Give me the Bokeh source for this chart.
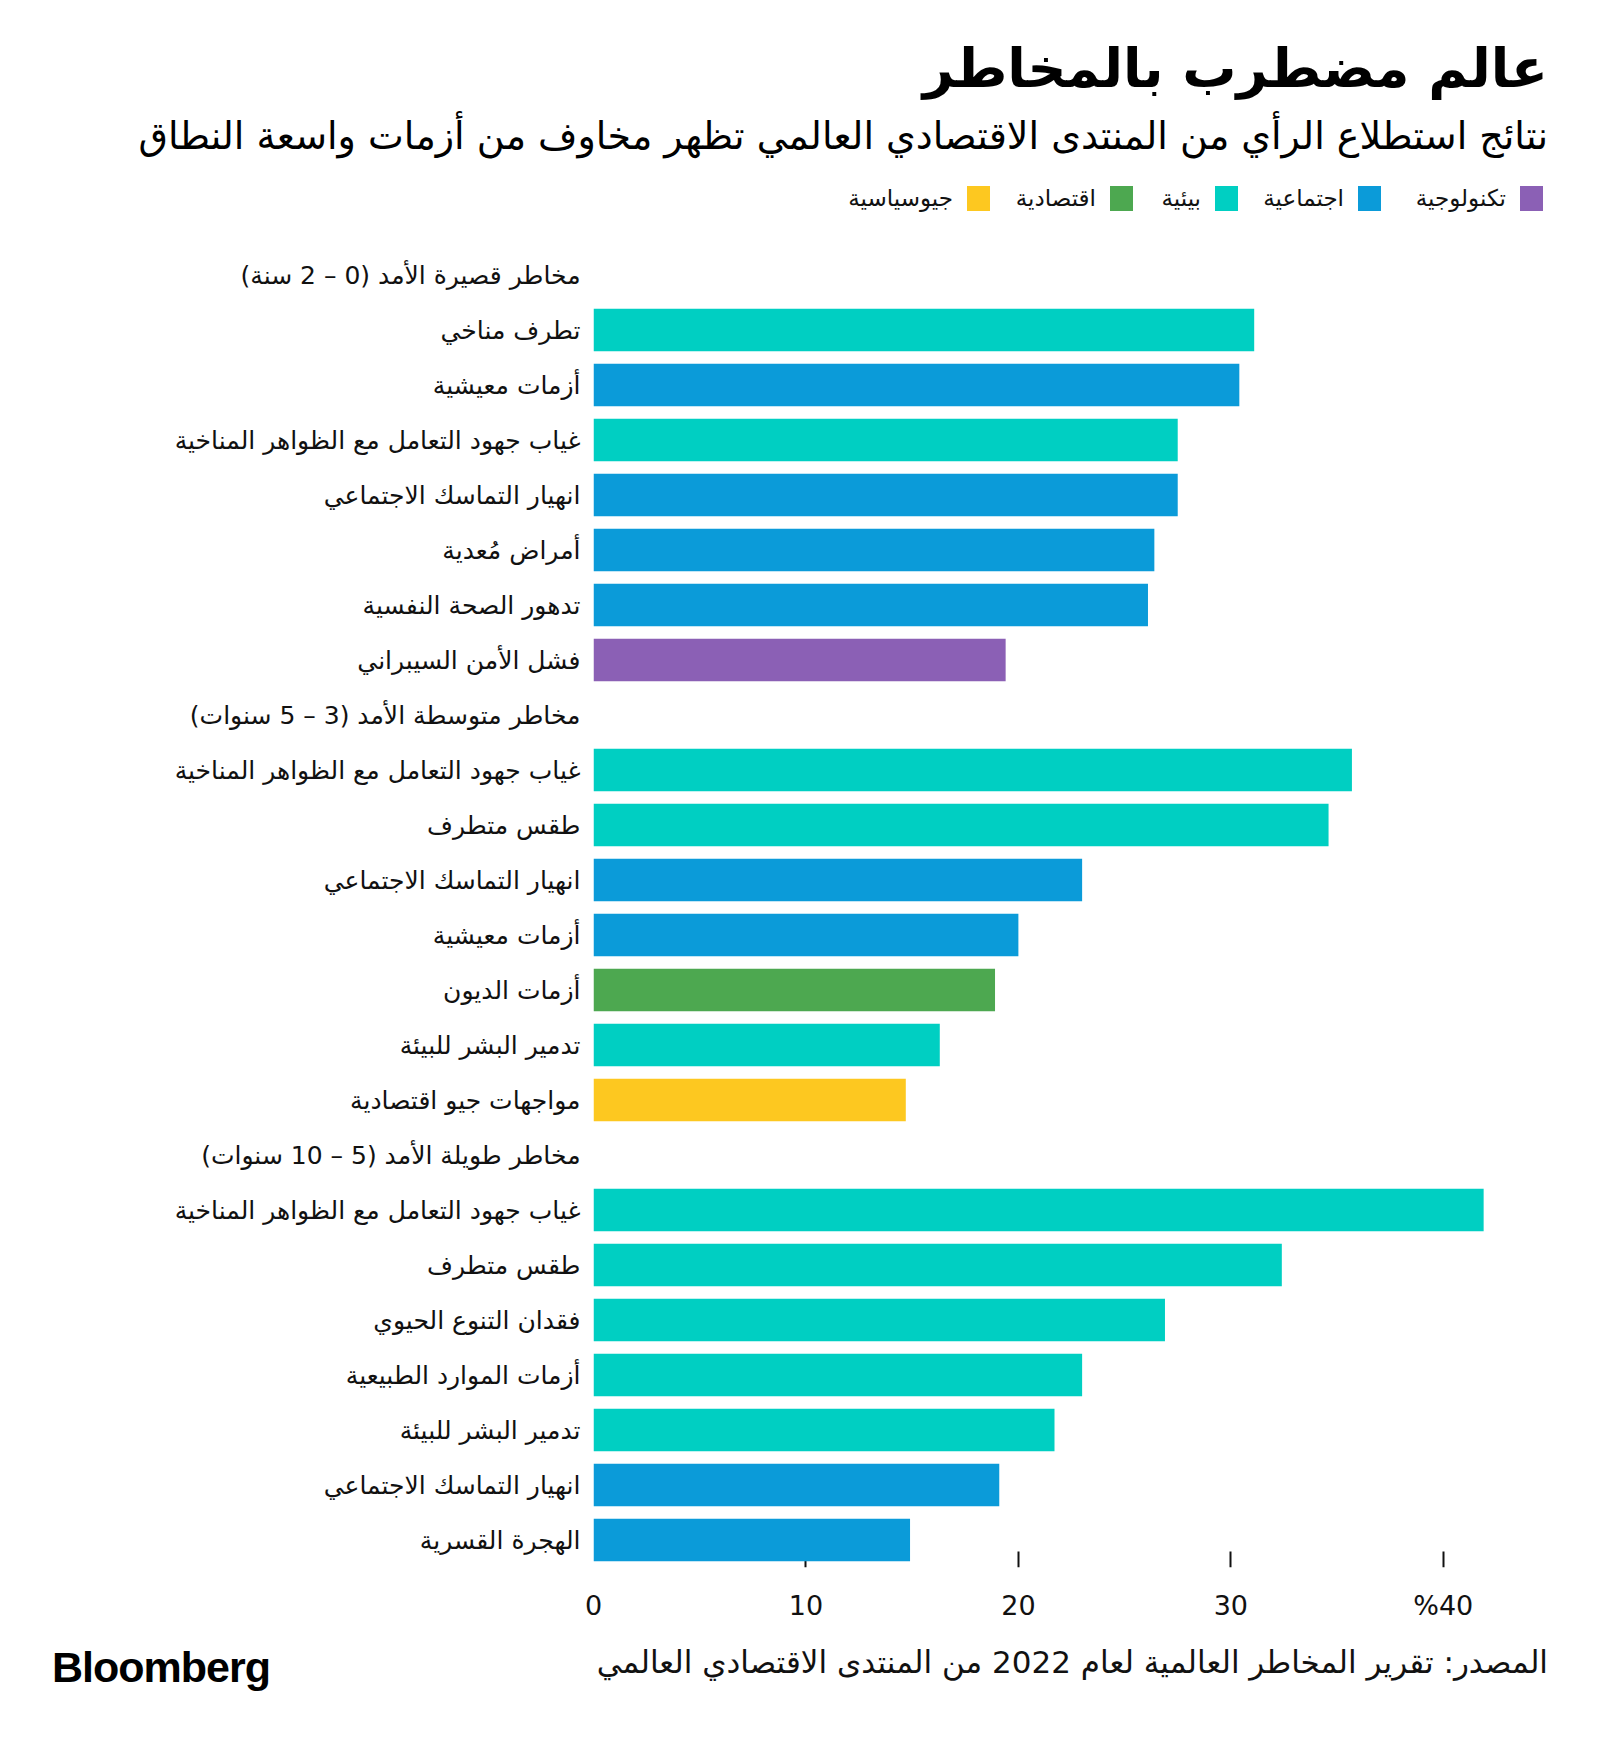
from bokeh.plotting import figure
from bokeh.models import Range1d, FixedTicker, ColumnDataSource, LinearAxis, Div
from bokeh.layouts import column
from bokeh.embed import file_html
from bokeh.resources import INLINE

RLE, PDF = "\u202B", "\u202C"
def rtl(s):
    return RLE + s + PDF

TITLE = "عالم مضطرب بالمخاطر"
SUBTITLE = "نتائج استطلاع الرأي من المنتدى الاقتصادي العالمي تظهر مخاوف من أزمات واسعة النطاق"
SOURCE = "المصدر: تقرير المخاطر العالمية لعام 2022 من المنتدى الاقتصادي العالمي"
LOGO = "Bloomberg"

category_keys = ["tech", "soc", "env", "econ", "geo"]
category_names = ["تكنولوجية", "اجتماعية", "بيئية", "اقتصادية", "جيوسياسية"]
category_colors = ["#8B60B5", "#0B9BD9", "#00CFC2", "#4DA850", "#FDC820"]

section_titles = [
    "مخاطر قصيرة الأمد (0 – 2 سنة)",
    "مخاطر متوسطة الأمد (3 – 5 سنوات)",
    "مخاطر طويلة الأمد (5 – 10 سنوات)",
]

short_labels = ["تطرف مناخي", "أزمات معيشية", "غياب جهود التعامل مع الظواهر المناخية",
                "انهيار التماسك الاجتماعي", "أمراض مُعدية", "تدهور الصحة النفسية", "فشل الأمن السيبراني"]
short_values = [31.1, 30.4, 27.5, 27.5, 26.4, 26.1, 19.4]
short_cats = ["env", "soc", "env", "soc", "soc", "soc", "tech"]

medium_labels = ["غياب جهود التعامل مع الظواهر المناخية", "طقس متطرف", "انهيار التماسك الاجتماعي",
                 "أزمات معيشية", "أزمات الديون", "تدمير البشر للبيئة", "مواجهات جيو اقتصادية"]
medium_values = [35.7, 34.6, 23.0, 20.0, 18.9, 16.3, 14.7]
medium_cats = ["env", "env", "soc", "soc", "econ", "env", "geo"]

long_labels = ["غياب جهود التعامل مع الظواهر المناخية", "طقس متطرف", "فقدان التنوع الحيوي",
               "أزمات الموارد الطبيعية", "تدمير البشر للبيئة", "انهيار التماسك الاجتماعي", "الهجرة القسرية"]
long_values = [41.9, 32.4, 26.9, 23.0, 21.7, 19.1, 14.9]
long_cats = ["env", "env", "env", "env", "env", "soc", "soc"]

x_ticks = [0, 10, 20, 30, 40]
x_tick_labels = ["0", "10", "20", "30", "%40"]

AR_FONT = "DejaVu Sans"
W = 1592
TEXT_RIGHT = 1548

# ---------------- header: title, subtitle, legend (HTML) ----------------
HEADER_H = 220
def abs_text(txt, right=None, left=None, cy=0, size=20, weight="normal", family=AR_FONT,
             color="#000", rtl_dir=True, extra=""):
    pos = f"right:{right}px;" if right is not None else f"left:{left}px;"
    d = ' dir="rtl"' if rtl_dir else ""
    return (f'<div{d} style="position:absolute;{pos}top:{cy - size / 2:.1f}px;height:{size}px;'
            f'line-height:{size}px;font-size:{size}px;font-weight:{weight};'
            f"font-family:'{family}';color:{color};white-space:nowrap;{extra}\">{txt}</div>")

sq_right = [1543, 1381, 1238, 1133, 990]
hdr_parts = [abs_text(TITLE, right=W - TEXT_RIGHT, cy=69, size=54, weight="bold"),
             abs_text(SUBTITLE, right=W - TEXT_RIGHT, cy=136, size=38)]
for name, color, r in zip(category_names, category_colors, sq_right):
    hdr_parts.append(f'<div style="position:absolute;left:{r - 23}px;top:186px;width:23px;'
                     f'height:25px;background:{color}"></div>')
    hdr_parts.append(abs_text(name, right=W - (r - 23 - 14), cy=198, size=23, color="#111"))
header = Div(text=f'<div style="position:relative;width:{W}px;height:{HEADER_H}px;'
                  f'background:white;margin:0;padding:0">' + "".join(hdr_parts) + "</div>",
             width=W, height=HEADER_H, margin=0)

# ---------------- main chart ----------------
rows_y, rows_v, rows_c = [], [], []
label_map = {}
row = 0
for title, labels, values, cats in zip(section_titles,
                                       [short_labels, medium_labels, long_labels],
                                       [short_values, medium_values, long_values],
                                       [short_cats, medium_cats, long_cats]):
    label_map[row] = rtl(title)
    row += 1
    for lab, v, c in zip(labels, values, cats):
        label_map[row] = rtl(lab)
        rows_y.append(row)
        rows_v.append(v)
        rows_c.append(category_colors[category_keys.index(c)])
        row += 1
n_rows = row

src = ColumnDataSource(dict(y=rows_y, v=rows_v, color=rows_c))

p = figure(width=W, height=1405, output_backend="svg", toolbar_location=None,
           x_range=Range1d(0, 45), y_range=Range1d(n_rows - 0.5, -0.5),
           min_border_left=593, min_border_right=43, min_border_top=27, min_border_bottom=58,
           margin=0)
p.outline_line_color = None
p.xgrid.visible = False
p.ygrid.visible = False
p.background_fill_color = "white"
p.border_fill_color = "white"

p.hbar(y="y", left=0, right="v", height=0.77, color="color", line_color=None, source=src)

ya = p.yaxis[0]
ya.ticker = FixedTicker(ticks=list(range(n_rows)))
ya.major_label_overrides = label_map
ya.major_tick_line_color = None
ya.minor_tick_line_color = None
ya.axis_line_color = None
ya.major_label_standoff = 7
ya.major_label_text_font = AR_FONT
ya.major_label_text_font_size = "25px"
ya.major_label_text_color = "#111111"

xa = p.xaxis[0]
xa.ticker = FixedTicker(ticks=x_ticks)
xa.major_label_overrides = {t: s for t, s in zip(x_ticks, x_tick_labels)}
xa.axis_line_color = None
xa.minor_tick_line_color = None
xa.major_tick_line_color = None
xa.major_tick_in = 0
xa.major_tick_out = 0
xa.major_label_standoff = 22
xa.major_label_text_font = AR_FONT
xa.major_label_text_font_size = "27px"
xa.major_label_text_color = "#111111"

# tick marks pinned to the frame bottom, drawn beneath the bars (the 0 tick is hidden by the bars)
xt = LinearAxis(ticker=FixedTicker(ticks=x_ticks[1:]), axis_line_color=None, minor_tick_line_color=None,
                major_tick_in=16, major_tick_out=0, major_tick_line_width=2,
                major_tick_line_color="#111111",
                major_label_overrides={t: "" for t in x_ticks},
                major_label_standoff=0, level="underlay", fixed_location=n_rows - 0.5)
p.add_layout(xt, "below")

# ---------------- footer: source + logo (HTML) ----------------
FOOTER_H = 113
ftr_parts = [abs_text(SOURCE, right=W - TEXT_RIGHT, cy=37, size=31, color="#111"),
             abs_text(LOGO, left=52, cy=42, size=43, weight="bold", family="Liberation Sans",
                      rtl_dir=False, extra="letter-spacing:-1px;")]
footer = Div(text=f'<div style="position:relative;width:{W}px;height:{FOOTER_H}px;'
                  f'background:white;margin:0;padding:0">' + "".join(ftr_parts) + "</div>",
             width=W, height=FOOTER_H, margin=0)

layout = column(header, p, footer, spacing=0)
open("out.html", "w").write(file_html(layout, INLINE))
